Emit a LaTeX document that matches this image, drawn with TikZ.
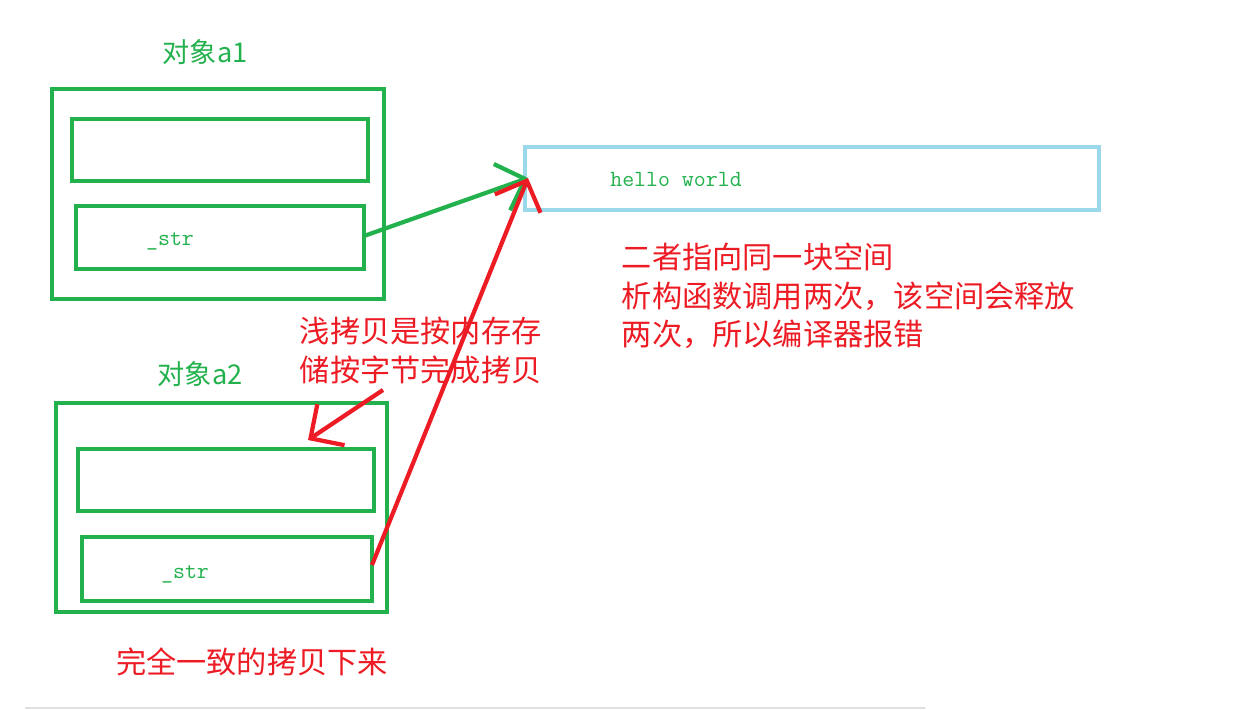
\documentclass[tikz,border=0pt]{standalone}
\usepackage{fontspec}
\newfontfamily\cjk{Noto Sans CJK SC}
\usetikzlibrary{arrows.meta, positioning}
\definecolor{boxgreen}{RGB}{34,177,76}
\definecolor{skyline}{RGB}{153,217,234}
\definecolor{notered}{RGB}{237,28,36}
\tikzset{
	objbox/.style={draw=boxgreen, line width=2.6pt, inner sep=0pt},
	fieldbox/.style={draw=boxgreen, line width=2.6pt, inner sep=0pt},
	greentext/.style={text=boxgreen, font=\cjk\fontsize{15.5pt}{18pt}\selectfont},
	monotext/.style={text=boxgreen, font=\ttfamily\fontsize{13.2pt}{15pt}\selectfont},
	redtext/.style={text=notered, font=\cjk\fontsize{17.2pt}{22pt}\selectfont, align=left, inner sep=2pt},
	redarrow/.style={draw=notered, line width=2.4pt, -{Straight Barb[length=14pt, width=28pt, line width=2.4pt]}},
}
\begin{document}
\begin{tikzpicture}[x=0.02cm, y=-0.02cm]
	\useasboundingbox (0,0) rectangle (1252,710);
	% Objects and fields:
	\draw[objbox] (52,89) rectangle (384,299);
	\draw[fieldbox] (72,119) rectangle (368,181);
	\draw[fieldbox] (76,206) rectangle (364,269);
	\draw[objbox] (56,403) rectangle (387,612);
	\draw[fieldbox] (78,449) rectangle (374,511);
	\draw[fieldbox] (82,537) rectangle (372,601);
	\draw[draw=skyline, line width=2.6pt] (525,147) rectangle (1099,210);
	\node[greentext](A1) at (205,52){对象a1};
	\node[greentext](A2) at (200,374){对象a2};
	\node[monotext](S1) at (170,241){\_str};
	\node[monotext](S2) at (185,574){\_str};
	\node[monotext](HW) at (676,179){hello world};
	% Texts:
	\node[redtext, anchor=north west](T1) at (296,313){浅拷贝是按内存存\\储按字节完成拷贝};
	\node[redtext, anchor=north west](T2) at (618,239){二者指向同一块空间\\析构函数调用两次，该空间会释放\\两次，所以编译器报错};
	\node[redtext](T3) at (252,662){完全一致的拷贝下来};
	% Pointers:
	\coordinate (P1) at (364,236);
	\coordinate (P2) at (372,565);
	\coordinate (Hit) at (528,178);
	\coordinate (C1) at (383,390);
	\coordinate (C2) at (308,440);
	\draw[draw=boxgreen, line width=2.4pt, -{Straight Barb[length=14pt, width=28pt, line width=2.4pt]}] (P1) -- (Hit);
	\draw[redarrow] (P2) -- (Hit);
	\draw[redarrow] (C1) -- (C2);
	\draw[gray!25, line width=0.6pt] (25,708) -- (925,708);
\end{tikzpicture}
\end{document}
